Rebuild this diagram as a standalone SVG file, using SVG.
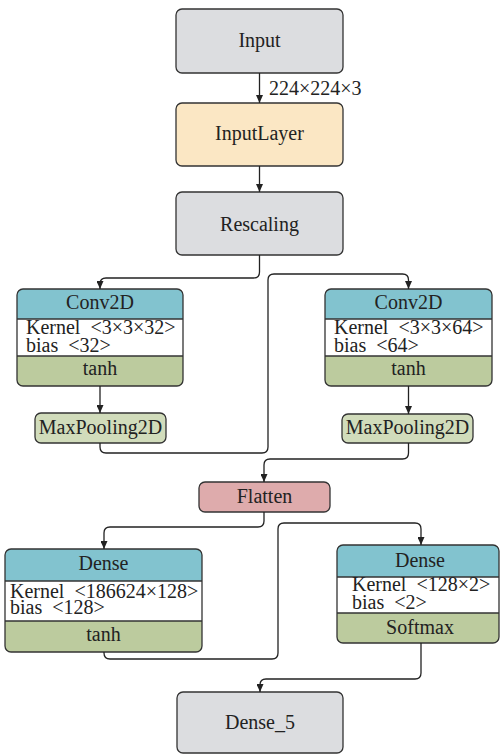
<svg xmlns="http://www.w3.org/2000/svg" width="500" height="755" viewBox="0 0 500 755">
<defs>
<marker id="arr" viewBox="0 0 8 7" refX="8" refY="3.5" markerWidth="8" markerHeight="7" markerUnits="userSpaceOnUse" orient="auto">
<path d="M0,0 L8,3.5 L0,7 z" fill="#222"/>
</marker>
<style>
text{font-family:'Liberation Serif','Times New Roman',serif;font-size:20px;fill:#222;}
.c{text-anchor:middle;}
.p{white-space:pre;}
.out{fill:none;stroke:#333;stroke-width:1.3;}
.grey{fill:#dcdde0;stroke:#333;stroke-width:1.3;}
.cream{fill:#fbe7c4;stroke:#333;stroke-width:1.3;}
.pink{fill:#deabac;stroke:#333;stroke-width:1.3;}
.pool{fill:#d1dcbb;stroke:#333;stroke-width:1.3;}
.teal{fill:#82c3cf;}
.white{fill:#ffffff;}
.green{fill:#bccb9e;}
.sep{stroke:#333;stroke-width:1.3;}
.conn path{fill:none;stroke:#222;stroke-width:1.3;marker-end:url(#arr);}
</style>
</defs>
<rect width="500" height="755" fill="#ffffff"/>
<g id="input">
<rect class="grey" x="176" y="9" width="167" height="64" rx="6"/>
<text class="c" x="259.5" y="47">Input</text>
</g>
<g id="inputlayer">
<rect class="cream" x="176" y="103" width="167" height="63" rx="6"/>
<text class="c" x="259.5" y="140">InputLayer</text>
</g>
<g id="rescaling">
<rect class="grey" x="176" y="192" width="167" height="63" rx="6"/>
<text class="c" x="259.5" y="231">Rescaling</text>
</g>

<g id="conv2d_1">
<rect class="teal" x="17" y="289" width="166" height="97" rx="6"/>
<rect class="white" x="17" y="319" width="166" height="37"/>
<path class="green" d="M17 356 H183 V380 Q183 386 177 386 H23 Q17 386 17 380 Z"/>
<line class="sep" x1="17" y1="319" x2="183" y2="319"/>
<line class="sep" x1="17" y1="356" x2="183" y2="356"/>
<rect class="out" x="17" y="289" width="166" height="97" rx="6"/>
<text class="c" x="100" y="309">Conv2D</text>
<text class="p" x="26" y="334">Kernel  &lt;3×3×32&gt;</text>
<text class="p" x="26" y="352">bias  &lt;32&gt;</text>
<text class="c" x="100" y="375">tanh</text>
</g>
<g id="maxpool_1">
<rect class="pool" x="35" y="413" width="131" height="30" rx="6"/>
<text class="c" x="100.5" y="434">MaxPooling2D</text>
</g>

<g id="conv2d_2">
<rect class="teal" x="325" y="289" width="167" height="97" rx="6"/>
<rect class="white" x="325" y="319" width="167" height="37"/>
<path class="green" d="M325 356 H492 V380 Q492 386 486 386 H331 Q325 386 325 380 Z"/>
<line class="sep" x1="325" y1="319" x2="492" y2="319"/>
<line class="sep" x1="325" y1="356" x2="492" y2="356"/>
<rect class="out" x="325" y="289" width="167" height="97" rx="6"/>
<text class="c" x="408.5" y="309">Conv2D</text>
<text class="p" x="334" y="334">Kernel  &lt;3×3×64&gt;</text>
<text class="p" x="334" y="352">bias  &lt;64&gt;</text>
<text class="c" x="408.5" y="375">tanh</text>
</g>
<g id="maxpool_2">
<rect class="pool" x="342" y="414" width="131" height="29" rx="6"/>
<text class="c" x="407.5" y="434">MaxPooling2D</text>
</g>

<g id="flatten">
<rect class="pink" x="199" y="482" width="131" height="30" rx="6"/>
<text class="c" x="264.5" y="503">Flatten</text>
</g>

<g id="dense_1">
<rect class="teal" x="5" y="549" width="197" height="103" rx="6"/>
<rect class="white" x="5" y="581" width="197" height="40"/>
<path class="green" d="M5 621 H202 V646 Q202 652 196 652 H11 Q5 652 5 646 Z"/>
<line class="sep" x1="5" y1="581" x2="202" y2="581"/>
<line class="sep" x1="5" y1="621" x2="202" y2="621"/>
<rect class="out" x="5" y="549" width="197" height="103" rx="6"/>
<text class="c" x="103.5" y="570">Dense</text>
<text class="p" x="10" y="598">Kernel  &lt;186624×128&gt;</text>
<text class="p" x="10" y="614">bias  &lt;128&gt;</text>
<text class="c" x="103.5" y="641">tanh</text>
</g>

<g id="dense_2">
<rect class="teal" x="337" y="545" width="162" height="98" rx="6"/>
<rect class="white" x="337" y="577" width="162" height="36"/>
<path class="green" d="M337 613 H499 V637 Q499 643 493 643 H343 Q337 643 337 637 Z"/>
<line class="sep" x1="337" y1="577" x2="499" y2="577"/>
<line class="sep" x1="337" y1="613" x2="499" y2="613"/>
<rect class="out" x="337" y="545" width="162" height="98" rx="6"/>
<text class="c" x="420" y="567">Dense</text>
<text class="p" x="352" y="591">Kernel  &lt;128×2&gt;</text>
<text class="p" x="352" y="609">bias  &lt;2&gt;</text>
<text class="c" x="420" y="634">Softmax</text>
</g>

<g id="dense_5">
<rect class="grey" x="177" y="692" width="166" height="61" rx="6"/>
<text class="c" x="260" y="729">Dense_5</text>
</g>

<g class="conn" id="connectors">
<path d="M259.5 73 V103"/>
<path d="M259.5 166 V192"/>
<path d="M259.5 255 V272 Q259.5 278 253.5 278 H106 Q100 278 100 284 V289"/>
<path d="M100 386 V413"/>
<path d="M100 443 V447 Q100 453 106 453 H262 Q268 453 268 447 V280 Q268 274 274 274 H402.5 Q408.5 274 408.5 280 V289"/>
<path d="M408.5 386 V414"/>
<path d="M408.5 443 V453 Q408.5 459 402.5 459 H270 Q264 459 264 465 V482"/>
<path d="M264 512 V521 Q264 527 258 527 H110 Q104 527 104 533 V549"/>
<path d="M104 652 V653 Q104 659 110 659 H272 Q278 659 278 653 V529 Q278 523 284 523 H415 Q421 523 421 529 V545"/>
<path d="M421 643 V673 Q421 679 415 679 H266 Q260 679 260 685 V692"/>
</g>
<text x="269" y="95">224×224×3</text>
</svg>
